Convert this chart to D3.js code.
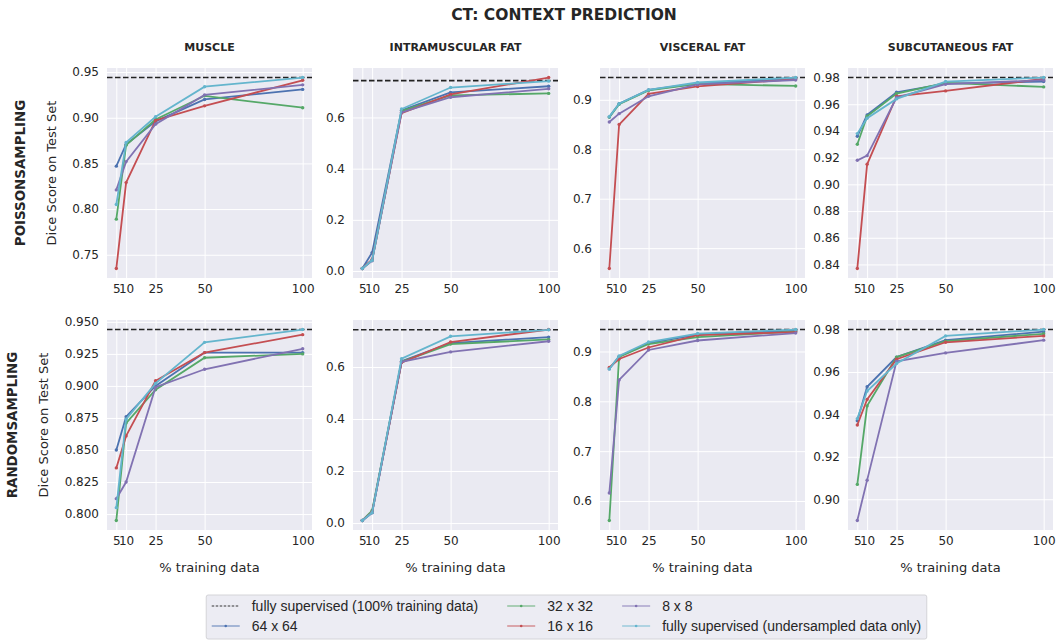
<!DOCTYPE html>
<html>
<head>
<meta charset="utf-8">
<script src="https://cdn.jsdelivr.net/npm/d3@7"></script>
<style>
  body { margin: 0; background: #fff; }
  svg text { font-family: "DejaVu Sans", sans-serif; fill: #262626; }
</style>
</head>
<body>
<div id="chart"></div>
<script>
// x values shared by every panel
const trainingPct = [5, 10, 25, 50, 100];
const organs = ["MUSCLE", "INTRAMUSCULAR FAT", "VISCERAL FAT", "SUBCUTANEOUS FAT"];
const samplings = ["POISSONSAMPLING", "RANDOMSAMPLING"];
const seriesNames = ["64 x 64", "32 x 32", "16 x 16", "8 x 8", "fully supervised (undersampled data only)"];
const hlineName = "fully supervised (100% training data)";

// dice of the fully supervised model trained on 100% data (dashed line)
const fullySupervised = [
  [0.944, 0.744, 0.945, 0.980],
  [0.944, 0.743, 0.944, 0.980]
];

// rows: 64x64, 32x32, 16x16, 8x8, fully supervised (undersampled)
const poissonMuscle = [
  [0.847, 0.871, 0.896, 0.920, 0.931],
  [0.789, 0.870, 0.898, 0.924, 0.911],
  [0.735, 0.829, 0.897, 0.913, 0.941],
  [0.821, 0.852, 0.893, 0.925, 0.936],
  [0.805, 0.873, 0.901, 0.934, 0.944]
];
const poissonIMF = [
  [0.010, 0.072, 0.628, 0.698, 0.722],
  [0.010, 0.042, 0.625, 0.686, 0.694],
  [0.010, 0.045, 0.617, 0.690, 0.756],
  [0.010, 0.040, 0.620, 0.679, 0.712],
  [0.010, 0.042, 0.633, 0.717, 0.742]
];
const poissonVF = [
  [0.865, 0.892, 0.920, 0.933, 0.943],
  [0.865, 0.891, 0.919, 0.932, 0.928],
  [0.559, 0.850, 0.912, 0.927, 0.942],
  [0.855, 0.872, 0.907, 0.931, 0.940],
  [0.866, 0.892, 0.920, 0.935, 0.945]
];
const poissonSF = [
  [0.936, 0.952, 0.969, 0.9755, 0.977],
  [0.930, 0.951, 0.968, 0.976, 0.973],
  [0.837, 0.915, 0.966, 0.970, 0.979],
  [0.918, 0.9215, 0.965, 0.975, 0.978],
  [0.938, 0.9495, 0.964, 0.977, 0.980]
];
const randomMuscle = [
  [0.850, 0.876, 0.900, 0.926, 0.926],
  [0.795, 0.871, 0.897, 0.922, 0.925],
  [0.836, 0.861, 0.904, 0.926, 0.940],
  [0.812, 0.825, 0.899, 0.913, 0.929],
  [0.805, 0.874, 0.902, 0.934, 0.944]
];
const randomIMF = [
  [0.010, 0.040, 0.622, 0.692, 0.715],
  [0.010, 0.048, 0.620, 0.688, 0.706],
  [0.010, 0.042, 0.617, 0.696, 0.744],
  [0.010, 0.040, 0.620, 0.658, 0.699],
  [0.010, 0.040, 0.632, 0.718, 0.743]
];
const randomVF = [
  [0.865, 0.890, 0.917, 0.934, 0.942],
  [0.561, 0.889, 0.915, 0.929, 0.940],
  [0.868, 0.885, 0.908, 0.933, 0.939],
  [0.616, 0.843, 0.903, 0.922, 0.937],
  [0.865, 0.891, 0.919, 0.936, 0.944]
];
const randomSF = [
  [0.937, 0.953, 0.967, 0.975, 0.979],
  [0.907, 0.944, 0.967, 0.9745, 0.978],
  [0.935, 0.947, 0.966, 0.974, 0.977],
  [0.890, 0.909, 0.965, 0.969, 0.975],
  [0.938, 0.951, 0.964, 0.977, 0.980]
];

// y tick labels per panel
const yTicks = [
  [["0.75", "0.80", "0.85", "0.90", "0.95"],
   ["0.0", "0.2", "0.4", "0.6"],
   ["0.6", "0.7", "0.8", "0.9"],
   ["0.84", "0.86", "0.88", "0.90", "0.92", "0.94", "0.96", "0.98"]],
  [["0.800", "0.825", "0.850", "0.875", "0.900", "0.925", "0.950"],
   ["0.0", "0.2", "0.4", "0.6"],
   ["0.6", "0.7", "0.8", "0.9"],
   ["0.90", "0.92", "0.94", "0.96", "0.98"]]
];

const panelData = [
  [poissonMuscle, poissonIMF, poissonVF, poissonSF],
  [randomMuscle, randomIMF, randomVF, randomSF]
];

const colors = ["#4c72b0", "#55a868", "#c44e52", "#8172b2", "#64b5cd"];

const width = 1061, height = 641;
const colX = [107, 353, 600, 848];
const rowY = [68, 320];
const pw = 205, ph = 210;

const svg = d3.select("#chart").append("svg")
  .attr("width", width)
  .attr("height", height);

svg.append("text")
  .attr("x", 564).attr("y", 15)
  .attr("text-anchor", "middle")
  .attr("dominant-baseline", "central")
  .style("font-size", "15.5px")
  .style("font-weight", "bold")
  .text("CT: CONTEXT PREDICTION");

samplings.forEach(function(sampling, r) {
  organs.forEach(function(organ, c) {
    const series = panelData[r][c];
    const hline = fullySupervised[r][c];
    const allVals = d3.merge(series).concat([hline]);
    const lo = d3.min(allVals), hi = d3.max(allVals);
    const pad = (hi - lo) * 0.05;

    const x = d3.scaleLinear().domain([0.25, 104.75]).range([0, pw]);
    const y = d3.scaleLinear().domain([lo - pad, hi + pad]).range([ph, 0]);

    const g = svg.append("g")
      .attr("transform", "translate(" + colX[c] + "," + rowY[r] + ")");

    g.append("rect")
      .attr("width", pw).attr("height", ph)
      .attr("fill", "#eaeaf2");

    const tickVals = yTicks[r][c].map(Number);

    // grid
    g.append("g")
      .call(d3.axisLeft(y).tickValues(tickVals).tickSize(-pw).tickFormat(""))
      .call(s => s.select(".domain").remove())
      .selectAll("line").attr("stroke", "#fff").attr("stroke-width", 1);
    g.append("g")
      .attr("transform", "translate(0," + ph + ")")
      .call(d3.axisBottom(x).tickValues(trainingPct).tickSize(-ph).tickFormat(""))
      .call(s => s.select(".domain").remove())
      .selectAll("line").attr("stroke", "#fff").attr("stroke-width", 1);

    // y axis labels
    const yAxis = g.append("g")
      .attr("class", "y-axis")
      .call(d3.axisLeft(y).tickValues(tickVals)
        .tickFormat((d, i) => yTicks[r][c][i]).tickSize(0).tickPadding(8));
    yAxis.select(".domain").remove();
    yAxis.selectAll("text").style("font-size", "12px").attr("fill", "#262626")
      .style("font-family", "DejaVu Sans");

    const xAxis = g.append("g")
      .attr("transform", "translate(0," + ph + ")")
      .call(d3.axisBottom(x).tickValues(trainingPct).tickSize(0).tickPadding(6));
    xAxis.select(".domain").remove();
    xAxis.selectAll("text").style("font-size", "12px").attr("fill", "#262626")
      .style("font-family", "DejaVu Sans");

    // dashed reference line
    g.append("line")
      .attr("x1", 0).attr("x2", pw)
      .attr("y1", y(hline)).attr("y2", y(hline))
      .attr("stroke", "#222")
      .attr("stroke-width", 1.6)
      .attr("stroke-dasharray", "5.5,2.5");

    const line = d3.line()
      .x((d, i) => x(trainingPct[i]))
      .y(d => y(d));

    series.forEach(function(vals, si) {
      g.append("path")
        .datum(vals)
        .attr("d", line)
        .attr("fill", "none")
        .attr("stroke", colors[si])
        .attr("stroke-width", 1.8);
      g.selectAll(null)
        .data(vals)
        .enter().append("circle")
        .attr("cx", (d, i) => x(trainingPct[i]))
        .attr("cy", d => y(d))
        .attr("r", 1.7)
        .attr("fill", colors[si]);
    });

    if (r === 0) {
      svg.append("text")
        .attr("x", colX[c] + pw / 2).attr("y", 47)
        .attr("text-anchor", "middle")
        .attr("dominant-baseline", "central")
        .style("font-size", "11px")
        .style("font-weight", "bold")
        .text(organ);
    }
    if (r === 1) {
      svg.append("text")
        .attr("x", colX[c] + pw / 2).attr("y", 567)
        .attr("text-anchor", "middle")
        .attr("dominant-baseline", "central")
        .style("font-size", "13px")
        .text("% training data");
    }
    if (c === 0) {
      const box = yAxis.node().getBBox();
      const labelX = colX[c] + box.x - 21;
      const cy = rowY[r] + ph / 2;
      svg.append("text")
        .attr("transform", "translate(" + labelX + "," + cy + ") rotate(-90)")
        .attr("text-anchor", "middle")
        .attr("dominant-baseline", "central")
        .style("font-size", "13px")
        .text("Dice Score on Test Set");
      svg.append("text")
        .attr("transform", "translate(" + (labelX - 31) + "," + cy + ") rotate(-90)")
        .attr("text-anchor", "middle")
        .attr("dominant-baseline", "central")
        .style("font-size", "13.4px")
        .style("font-weight", "bold")
        .text(sampling);
    }
  });
});

// legend, column-major like matplotlib (2 rows x 3 cols)
const legendItems = [{ name: hlineName, color: "#222", dashed: true }]
  .concat(seriesNames.map((n, i) => ({ name: n, color: colors[i], dashed: false })));

const leg = svg.append("g");
const legBg = leg.append("rect");
const rowsY = [606, 626];
const handleLen = 28, textGap = 12, colGap = 29;
let cx = 0;
const items = leg.append("g");
for (let col = 0; col < 3; col++) {
  let maxW = 0;
  for (let row = 0; row < 2; row++) {
    const it = legendItems[col * 2 + row];
    const yy = rowsY[row];
    items.append("line")
      .attr("x1", cx).attr("x2", cx + handleLen)
      .attr("y1", yy).attr("y2", yy)
      .attr("stroke", it.color)
      .attr("stroke-width", it.dashed ? 1 : 1.5)
      .attr("stroke-opacity", it.dashed ? 0.9 : 0.6)
      .attr("stroke-dasharray", it.dashed ? "2.5,1.5" : null);
    if (!it.dashed) {
      items.append("circle")
        .attr("cx", cx + handleLen / 2).attr("cy", yy)
        .attr("r", 1.3).attr("fill", it.color);
    }
    const t = items.append("text")
      .attr("x", cx + handleLen + textGap).attr("y", yy)
      .attr("dominant-baseline", "central")
      .style("font-family", "'Liberation Sans', Arial, sans-serif")
      .style("font-size", "14px")
      .text(it.name);
    maxW = Math.max(maxW, t.node().getComputedTextLength());
  }
  cx += handleLen + textGap + maxW + colGap;
}
const totalW = cx - colGap;
const legLeft = 566.5 - (totalW + 11) / 2;
items.attr("transform", "translate(" + (legLeft + 5.5) + ",0)");
legBg
  .attr("x", legLeft).attr("y", 595)
  .attr("width", totalW + 11).attr("height", 44)
  .attr("rx", 2)
  .attr("fill", "#ececf3")
  .attr("stroke", "#d4d4d8")
  .attr("stroke-width", 1);
</script>
</body>
</html>
